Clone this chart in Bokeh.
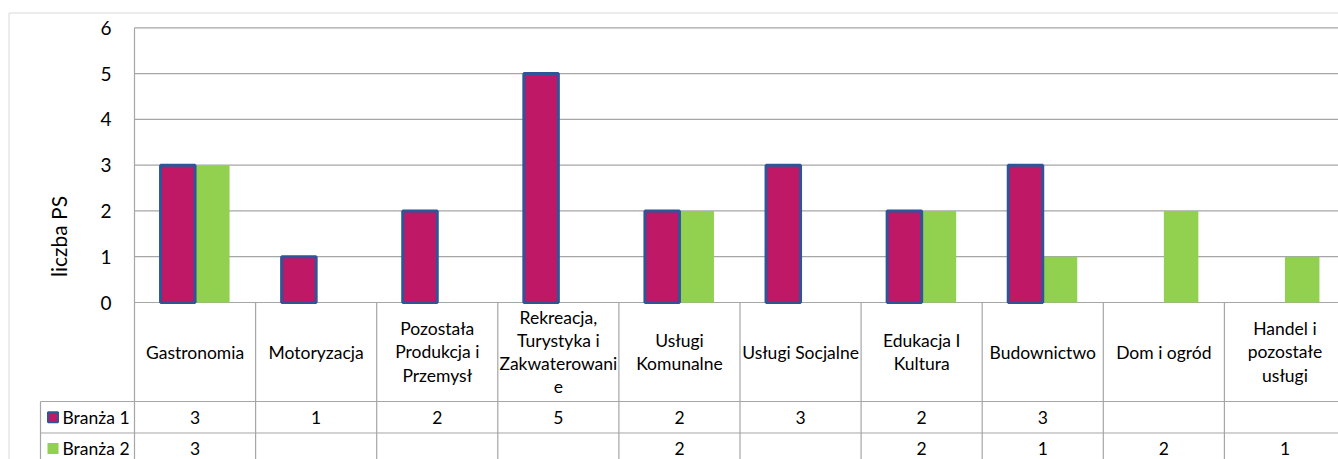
import math
from bokeh.plotting import figure
from bokeh.core.properties import value
from bokeh.embed import file_html
from bokeh.resources import INLINE

# ---------------- data ----------------
categories = ["Gastronomia", "Motoryzacja", "Pozostała Produkcja i Przemysł",
              "Rekreacja, Turystyka i Zakwaterowanie", "Usługi Komunalne",
              "Usługi Socjalne", "Edukacja I Kultura", "Budownictwo",
              "Dom i ogród", "Handel i pozostałe usługi"]
category_labels = ["Gastronomia", "Motoryzacja", "Pozostała\nProdukcja i\nPrzemysł",
                   "Rekreacja,\nTurystyka i\nZakwaterowani\ne", "Usługi\nKomunalne",
                   "Usługi Socjalne", "Edukacja I\nKultura", "Budownictwo",
                   "Dom i ogród", "Handel i\npozostałe\nusługi"]
series_names = ["Branża 1", "Branża 2"]
branza1 = [3, 1, 2, 5, 2, 3, 2, 3, None, None]
branza2 = [3, None, None, None, 2, None, 2, 1, 2, 1]
y_ticks = [0, 1, 2, 3, 4, 5, 6]
y_title = "liczba PS"

# ---------------- layout (canvas pixels) ----------------
W, H = 1338, 459
PLOT_LEFT = 134.0      # x of category axis start
CAT_W = 121.1          # width of one category
ZERO_Y = 302.0         # y of value 0
UNIT_H = 45.78         # pixels per unit value

def ux(cx):
    return (cx - PLOT_LEFT) / CAT_W

def vy(cy):
    return (ZERO_Y - cy) / UNIT_H

x_start, x_end = ux(0), ux(W)
y_start, y_end = vy(H), vy(0)

FONT = value("Lato")
GRID = "#A6A6A6"
MAGENTA = "#BE1867"
GREEN = "#92D050"
OUTLINE = "#2F5597"
BAR_W = 0.285
OFF = 0.1425

p = figure(width=W, height=H, x_range=(x_start, x_end), y_range=(y_start, y_end),
           output_backend="svg", toolbar_location=None, min_border=0,
           x_axis_location=None, y_axis_location=None)
p.outline_line_color = None
p.xgrid.visible = False
p.ygrid.visible = False
p.background_fill_color = "white"
p.border_fill_color = "white"

n = len(categories)

# outer chart border
p.segment(x0=[ux(8.5), ux(8.5)], y0=[vy(12.5), vy(12.5)], x1=[x_end, ux(8.5)], y1=[vy(12.5), y_start],
          line_color="#D9D9D9", line_width=1)

# horizontal gridlines
p.segment(x0=[0] * len(y_ticks), y0=y_ticks, x1=[x_end + 1] * len(y_ticks), y1=y_ticks,
          line_color=GRID, line_width=1.2)

# vertical lines (plot left edge + table columns)
vx = list(range(n))
vtop = [max(y_ticks)] + [0] * (n - 1)
p.segment(x0=vx, y0=vtop, x1=vx, y1=[y_start - 1] * n, line_color=GRID, line_width=1.2)

# table row lines
row1_top = vy(401)
row2_top = vy(432.5)
legend_left = ux(40)
p.segment(x0=[legend_left, legend_left], y0=[row1_top, row2_top],
          x1=[x_end + 1, x_end + 1], y1=[row1_top, row2_top], line_color=GRID, line_width=1.2)
p.segment(x0=[legend_left], y0=[row1_top], x1=[legend_left], y1=[y_start - 1],
          line_color=GRID, line_width=1.2)

# bars
b1 = [(i + 0.5 - OFF, v) for i, v in enumerate(branza1) if v is not None]
b2 = [(i + 0.5 + OFF, v) for i, v in enumerate(branza2) if v is not None]
p.vbar(x=[a for a, _ in b2], top=[b for _, b in b2], bottom=0, width=BAR_W,
       fill_color=GREEN, line_color=None)
p.vbar(x=[a for a, _ in b1], top=[b for _, b in b1], bottom=0, width=BAR_W,
       fill_color=MAGENTA, line_color=OUTLINE, line_width=3)

# y tick labels
p.text(x=[ux(111)] * len(y_ticks), y=y_ticks, text=[str(t) for t in y_ticks],
       text_font=FONT, text_font_size="19px", text_align="right",
       text_baseline="middle", text_color="black")

# y title
p.text(x=[ux(58)], y=[vy(236)], text=[y_title], angle=math.pi / 2,
       text_font=FONT, text_font_size="21px", text_align="center",
       text_baseline="middle", text_color="black")

# category header labels
p.text(x=[i + 0.5 for i in range(n)], y=[vy(351.5)] * n, text=category_labels,
       text_font=FONT, text_font_size="17.5px", text_align="center",
       text_baseline="middle", text_line_height=1.1, text_color="black")

# row values
r1y = (row1_top + row2_top) / 2
r2y = vy(448)
v1 = [(i + 0.5, str(v)) for i, v in enumerate(branza1) if v is not None]
v2 = [(i + 0.5, str(v)) for i, v in enumerate(branza2) if v is not None]
p.text(x=[a for a, _ in v1], y=[r1y] * len(v1), text=[b for _, b in v1],
       text_font=FONT, text_font_size="17.5px", text_align="center",
       text_baseline="middle", text_color="black")
p.text(x=[a for a, _ in v2], y=[r2y] * len(v2), text=[b for _, b in v2],
       text_font=FONT, text_font_size="17.5px", text_align="center",
       text_baseline="middle", text_color="black")

# legend keys and row labels
key_x = ux(52.5)
p.rect(x=[key_x], y=[r1y], width=10, height=10, width_units="screen", height_units="screen",
       fill_color=MAGENTA, line_color=OUTLINE, line_width=2)
p.rect(x=[key_x], y=[r2y], width=11, height=11, width_units="screen", height_units="screen",
       fill_color=GREEN, line_color=None)
p.text(x=[ux(62)] * 2, y=[r1y, r2y], text=series_names,
       text_font=FONT, text_font_size="17.5px", text_align="left",
       text_baseline="middle", text_color="black")

open("out.html", "w").write(file_html(p, INLINE))
